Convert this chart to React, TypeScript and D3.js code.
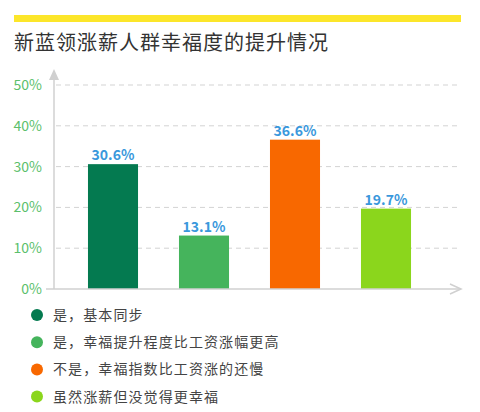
import { useEffect, useRef } from 'react'
import * as d3 from 'd3'

const title = '新蓝领涨薪人群幸福度的提升情况'
const categories = [
  '是，基本同步',
  '是，幸福提升程度比工资涨幅更高',
  '不是，幸福指数比工资涨的还慢',
  '虽然涨薪但没觉得更幸福'
]
const values = [30.6, 13.1, 36.6, 19.7]
const colors = ['#047a50', '#45b45c', '#f86800', '#8bd61c']
const yTicks = [0, 10, 20, 30, 40, 50]

const W = 480
const H = 412
const FONT = '"Noto Sans CJK SC", "Noto Sans", sans-serif'

export default function App() {
  const svgRef = useRef<SVGSVGElement>(null)

  useEffect(() => {
    if (!svgRef.current) return
    const svg = d3.select(svgRef.current)
    svg.selectAll('*').remove()

    const x0 = 54
    const x1 = 460
    const yBase = 289

    // yellow top stripe
    svg.append('rect')
      .attr('x', 14).attr('y', 15)
      .attr('width', 447).attr('height', 7)
      .attr('fill', '#fce62a')

    svg.append('text')
      .attr('x', 14).attr('y', 50)
      .attr('font-family', FONT)
      .attr('font-size', 20)
      .attr('letter-spacing', 1)
      .attr('fill', '#333')
      .text(title)

    const y = d3.scaleLinear().domain([0, 50]).range([yBase, 85])
    const x = d3.scaleBand<number>()
      .domain(d3.range(values.length))
      .range([67.5, 431.5])
      .paddingInner(0.45)
      .paddingOuter(0.225)

    // gridlines
    svg.append('g')
      .selectAll('line')
      .data(yTicks.filter(t => t > 0))
      .enter()
      .append('line')
      .attr('x1', x0 + 2).attr('x2', x1)
      .attr('y1', d => y(d)).attr('y2', d => y(d))
      .attr('stroke', '#d3d3d3')
      .attr('stroke-width', 1)
      .attr('stroke-dasharray', '5,4')

    // tick labels
    svg.append('g')
      .selectAll('text')
      .data(yTicks)
      .enter()
      .append('text')
      .attr('x', 42)
      .attr('y', d => y(d))
      .attr('dy', '0.35em')
      .attr('text-anchor', 'end')
      .attr('font-family', FONT)
      .attr('font-size', 14)
      .attr('fill', '#5cbf6c')
      .text(d => `${d}%`)

    // bars
    svg.append('g')
      .selectAll('rect')
      .data(values)
      .enter()
      .append('rect')
      .attr('x', (_, i) => x(i)!)
      .attr('y', d => y(d))
      .attr('width', x.bandwidth())
      .attr('height', d => yBase - y(d))
      .attr('fill', (_, i) => colors[i])

    // value labels
    svg.append('g')
      .selectAll('text')
      .data(values)
      .enter()
      .append('text')
      .attr('x', (_, i) => x(i)! + x.bandwidth() / 2)
      .attr('y', d => y(d) - 4)
      .attr('text-anchor', 'middle')
      .attr('font-family', FONT)
      .attr('font-size', 14)
      .attr('font-weight', 600)
      .attr('fill', '#3a98dc')
      .text(d => `${d.toFixed(1)}%`)

    // axes with arrows
    const axisColor = '#d0d0d0'
    svg.append('line')
      .attr('x1', x0).attr('x2', x0)
      .attr('y1', yBase).attr('y2', 72)
      .attr('stroke', axisColor).attr('stroke-width', 1.5)
    svg.append('path')
      .attr('d', `M${x0 - 5},${80} L${x0},${69} L${x0 + 5},${80} Z`)
      .attr('fill', axisColor)
    svg.append('line')
      .attr('x1', x0 - 8).attr('x2', x1)
      .attr('y1', yBase).attr('y2', yBase)
      .attr('stroke', axisColor).attr('stroke-width', 1.5)
    svg.append('path')
      .attr('d', `M${x1 - 10},${yBase - 5} L${x1 + 1},${yBase} L${x1 - 10},${yBase + 5}`)
      .attr('fill', 'none')
      .attr('stroke', axisColor)
      .attr('stroke-width', 1.5)

    // legend
    const legend = svg.append('g')
      .selectAll('g')
      .data(categories)
      .enter()
      .append('g')
      .attr('transform', (_, i) => `translate(37,${315 + i * 27.2})`)
    legend.append('circle')
      .attr('r', 6)
      .attr('fill', (_, i) => colors[i])
    legend.append('text')
      .attr('x', 16)
      .attr('dy', '0.36em')
      .attr('font-family', FONT)
      .attr('font-size', 14)
      .attr('letter-spacing', 1.1)
      .attr('fill', '#444')
      .text(d => d)
  }, [])

  return (
    <svg
      ref={svgRef}
      width={W}
      height={H}
      style={{ position: 'absolute', left: 0, top: 0, background: '#fff' }}
    />
  )
}
